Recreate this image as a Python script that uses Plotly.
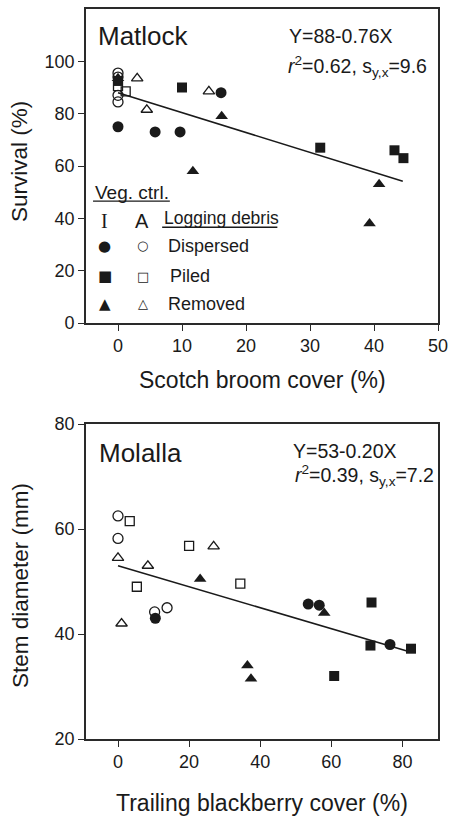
import plotly.graph_objects as go

# ---------------- data ----------------
# Matlock (Scotch broom cover %, survival %)
mat_disp_I_x = [0, 5.8, 9.7, 16.1]
mat_disp_I_y = [75, 73, 73, 88]
mat_disp_A_x = [0, 0, 0, 0]
mat_disp_A_y = [95.5, 94, 87, 84.5]
mat_pile_I_x = [0, 10, 31.6, 43.2, 44.6]
mat_pile_I_y = [92.5, 90, 67, 66, 63]
mat_pile_A_x = [0, 1.2]
mat_pile_A_y = [90.5, 88.5]
mat_rem_I_x = [0, 11.7, 16.2, 39.3, 40.8]
mat_rem_I_y = [93.5, 58, 79, 38, 53]
mat_rem_A_x = [3, 4.5, 14.2]
mat_rem_A_y = [93.5, 81.5, 88.5]

# Molalla (trailing blackberry cover %, stem diameter mm)
mol_disp_I_x = [10.5, 53.5, 56.6, 76.5]
mol_disp_I_y = [43, 45.7, 45.5, 38]
mol_disp_A_x = [0, 0, 10.3, 13.8]
mol_disp_A_y = [62.5, 58.2, 44.2, 45]
mol_pile_I_x = [60.8, 71, 71.3, 82.4]
mol_pile_I_y = [32, 37.8, 46, 37.2]
mol_pile_A_x = [3.3, 5.3, 20, 34.4]
mol_pile_A_y = [61.5, 49, 56.8, 49.6]
mol_rem_I_x = [23.1, 36.4, 37.4, 58]
mol_rem_I_y = [50.5, 34, 31.5, 44]
mol_rem_A_x = [0, 1, 8.4, 26.9]
mol_rem_A_y = [54.5, 42, 53, 56.7]

# regression fits: intercept, slope, x extent
mat_fit = (88, -0.76)
mat_fit_x = [0, 44.5]
mol_fit = (53, -0.20)
mol_fit_x = [0, 81.5]

mat_xticks = [0, 10, 20, 30, 40, 50]
mat_yticks = [0, 20, 40, 60, 80, 100]
mol_xticks = [0, 20, 40, 60, 80]
mol_yticks = [20, 40, 60, 80]

# ---------------- style ----------------
INK = "#1a1a1a"
FONT = "Liberation Sans, Arial, sans-serif"

# plot area wanted at page px [86,438] x [9,739]; page body margin removed via post_script
W, H = 450, 817
PL, PR, PT, PB = 86, 438, 9, 739

fig = go.Figure()


def add_pts(x, y, sym, size, xa, ya):
    open_ = sym.endswith("-open")
    fig.add_trace(go.Scatter(
        x=x, y=y, mode="markers", xaxis=xa, yaxis=ya, showlegend=False,
        marker=dict(symbol=sym, size=size, color=INK,
                    line=dict(color=INK, width=1.3 if open_ else 0)),
        hoverinfo="x+y"))


def add_fit(fit, xs, xa, ya):
    a, b = fit
    fig.add_trace(go.Scatter(
        x=xs, y=[a + b * v for v in xs], mode="lines", xaxis=xa, yaxis=ya,
        showlegend=False, line=dict(color=INK, width=1.6), hoverinfo="skip"))


# Matlock panel (top)
add_fit(mat_fit, mat_fit_x, "x", "y")
add_pts(mat_disp_A_x, mat_disp_A_y, "circle-open", 10, "x", "y")
add_pts(mat_pile_A_x, mat_pile_A_y, "square-open", 9, "x", "y")
add_pts(mat_rem_A_x, mat_rem_A_y, "triangle-up-open", 10, "x", "y")
add_pts(mat_disp_I_x, mat_disp_I_y, "circle", 11, "x", "y")
add_pts(mat_pile_I_x, mat_pile_I_y, "square", 10, "x", "y")
add_pts(mat_rem_I_x, mat_rem_I_y, "triangle-up", 11, "x", "y")

# Molalla panel (bottom)
add_fit(mol_fit, mol_fit_x, "x2", "y2")
add_pts(mol_disp_A_x, mol_disp_A_y, "circle-open", 10, "x2", "y2")
add_pts(mol_pile_A_x, mol_pile_A_y, "square-open", 9, "x2", "y2")
add_pts(mol_rem_A_x, mol_rem_A_y, "triangle-up-open", 10, "x2", "y2")
add_pts(mol_disp_I_x, mol_disp_I_y, "circle", 11, "x2", "y2")
add_pts(mol_pile_I_x, mol_pile_I_y, "square", 10, "x2", "y2")
add_pts(mol_rem_I_x, mol_rem_I_y, "triangle-up", 11, "x2", "y2")

axis_common = dict(showline=True, linecolor="#2a2a2a", linewidth=1.6, mirror=True,
                   ticks="outside", ticklen=6, tickwidth=1.4, tickcolor="#2a2a2a",
                   showgrid=False, zeroline=False, automargin=False,
                   tickfont=dict(family=FONT, size=18, color=INK))

fig.update_layout(
    width=W, height=H,
    margin=dict(l=PL, r=W - PR, t=PT, b=H - PB, autoexpand=False),
    paper_bgcolor="white", plot_bgcolor="white",
    font=dict(family=FONT, color=INK),
    xaxis=dict(domain=[0, 1], range=[-5, 50], tickvals=mat_xticks, anchor="y", **axis_common),
    yaxis=dict(domain=[(PB - 323) / (PB - PT), 1], range=[0, 120], tickvals=mat_yticks,
               anchor="x", **axis_common),
    xaxis2=dict(domain=[0, 1], range=[-9, 90], tickvals=mol_xticks, anchor="y2", **axis_common),
    yaxis2=dict(domain=[0, (PB - 424) / (PB - PT)], range=[20, 80], tickvals=mol_yticks,
                anchor="x2", **axis_common),
)

ann = []


def A(text, x, y, xref, yref, size, xanchor="left", yanchor="middle", family=FONT, angle=0):
    if xref == "page":
        xref, x = "paper", (x - PL) / (PR - PL)
    if yref == "page":
        yref, y = "paper", (PB - y) / (PB - PT)
    ann.append(dict(text=text, x=x, y=y, xref=xref, yref=yref, showarrow=False,
                    xanchor=xanchor, yanchor=yanchor, textangle=angle,
                    font=dict(family=family, size=size, color=INK)))


# panel titles & equations
A("Matlock", -3.4, 109.6, "x", "y", 26)
A("Y=88-0.76X", 34.8, 109.6, "x", "y", 19.5, xanchor="center")
A("<i>r</i><sup>2</sup>=0.62, s<sub>y,x</sub>=9.6", 48.6, 98.2, "x", "y", 19.5, xanchor="right")
A("Molalla", -5.9, 74.5, "x2", "y2", 26)
A("Y=53-0.20X", 63.9, 74.9, "x2", "y2", 19.5, xanchor="center")
A("<i>r</i><sup>2</sup>=0.39, s<sub>y,x</sub>=7.2", 89.3, 70.1, "x2", "y2", 19.5, xanchor="right")

# axis titles
A("Scotch broom cover (%)", 262, 380, "page", "page", 23, xanchor="center")
A("Trailing blackberry cover (%)", 262, 803, "page", "page", 23, xanchor="center")
A("Survival (%)", 20, 162, "page", "page", 22.5, xanchor="center", angle=-90)
A("Stem diameter (mm)", 20, 586, "page", "page", 22.5, xanchor="center", angle=-90)

# legend block inside top panel
A("Veg. ctrl.", -3.9, 49.9, "x", "y", 19)
A("I", -2.1, 39.1, "x", "y", 20, xanchor="center", family="Liberation Serif, Times New Roman, serif")
A("A", 3.75, 39.1, "x", "y", 20, xanchor="center")
A("Logging debris", 6.9, 40.3, "x", "y", 17.5)
leg_rows = [("●", "○", "Dispersed", 29.6, 7.55),
            ("■", "□", "Piled", 17.9, 7.85),
            ("▲", "△", "Removed", 7.4, 7.55)]
for filled, hollow, lab, yy, xt in leg_rows:
    A(filled, -2.1, yy, "x", "y", 15, xanchor="center", family="DejaVu Sans")
    A(hollow, 3.9, yy, "x", "y", 13, xanchor="center", family="DejaVu Sans")
    A(lab, xt, yy, "x", "y", 18)

fig.update_layout(annotations=ann)

# underlines for legend headings
fig.add_shape(type="line", xref="x", yref="y", x0=-3.9, x1=8.1, y0=46.6, y1=46.6,
              line=dict(color=INK, width=1.3))
fig.add_shape(type="line", xref="x", yref="y", x0=6.9, x1=24.9, y0=36.6, y1=36.6,
              line=dict(color=INK, width=1.3))

fig.write_html(
    "out.html",
    config={"displayModeBar": False},
    post_script="document.body.style.margin='0';"
                "document.body.style.overflow='hidden';"
                "document.documentElement.style.overflow='hidden';",
)
